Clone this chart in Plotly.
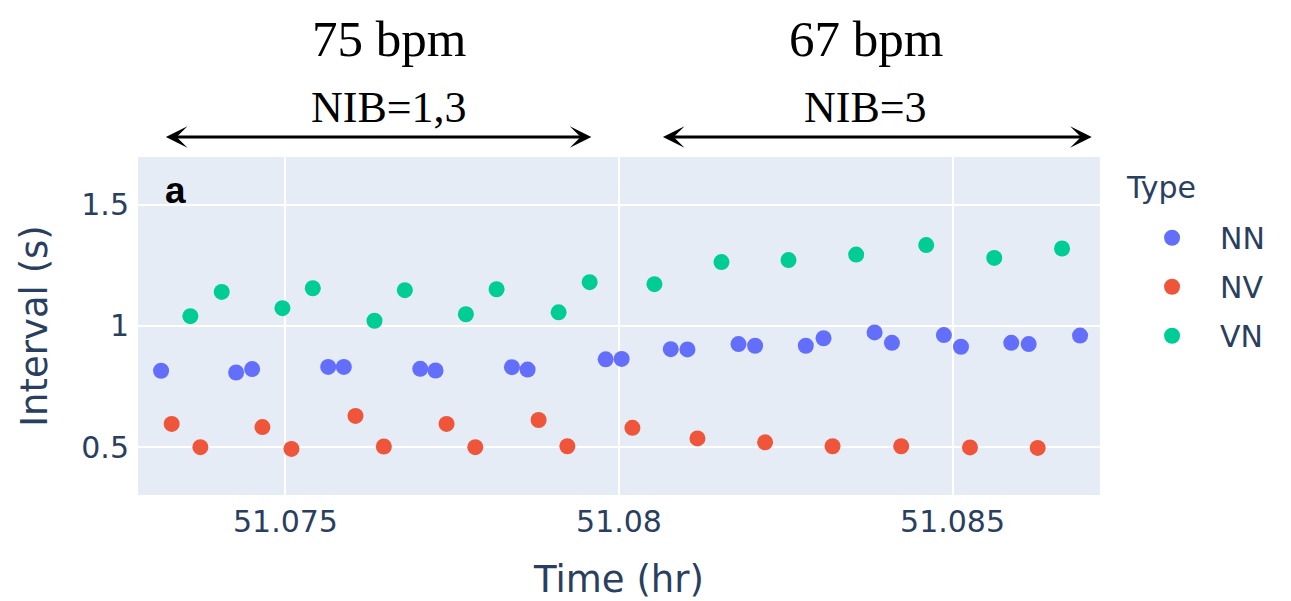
import plotly.graph_objects as go

# ---- data ----
nn_time = [51.073136, 51.074261, 51.074501, 51.075641, 51.075875, 51.077021, 51.07725,
           51.078395, 51.07863, 51.0798, 51.08004, 51.080776, 51.081026, 51.081791,
           51.08204, 51.0828, 51.083066, 51.083831, 51.084091, 51.08487, 51.085126,
           51.08588, 51.086141, 51.086911]
nn_interval = [0.815, 0.808, 0.822, 0.831, 0.831, 0.823, 0.816, 0.830, 0.820, 0.862, 0.864,
               0.904, 0.903, 0.925, 0.918, 0.918, 0.949, 0.973, 0.930, 0.962, 0.914,
               0.930, 0.925, 0.960]

nv_time = [51.073295, 51.073725, 51.074655, 51.07509, 51.07605, 51.076475, 51.077415,
           51.077846, 51.078795, 51.079226, 51.080201, 51.081176, 51.08219, 51.083201,
           51.08423, 51.085261, 51.086276]
nv_interval = [0.596, 0.500, 0.583, 0.493, 0.629, 0.503, 0.596, 0.500, 0.612, 0.504,
               0.580, 0.536, 0.520, 0.504, 0.504, 0.499, 0.497]

vn_time = [51.073575, 51.074045, 51.074955, 51.07541, 51.076335, 51.07679, 51.077705,
           51.078165, 51.079095, 51.07956, 51.080531, 51.081536, 51.082541, 51.083555,
           51.084605, 51.085625, 51.086641]
vn_interval = [1.040, 1.140, 1.073, 1.155, 1.021, 1.147, 1.048, 1.151, 1.056, 1.180,
               1.172, 1.263, 1.271, 1.294, 1.333, 1.280, 1.319]

series_names = ["NN", "NV", "VN"]
series_colors = ["#636EFA", "#EF553B", "#00CC96"]
legend_title = "Type"

# header labels
rate_labels = ["75 bpm", "67 bpm"]
nib_labels = ["NIB=1,3", "NIB=3"]
label_centers = [51.07655, 51.0837]
segment_bounds = [(51.073185, 51.079586), (51.080636, 51.087086)]

x_range = [51.07279, 51.08721]
y_range = [0.303, 1.696]

fig = go.Figure()
for name, color, xs, ys in zip(series_names, series_colors,
                               [nn_time, nv_time, vn_time],
                               [nn_interval, nv_interval, vn_interval]):
    fig.add_trace(go.Scatter(x=xs, y=ys, mode="markers", name=name,
                             legendgroup=name,
                             marker=dict(color=color, size=16)))

FONT = "DejaVu Sans, Verdana, sans-serif"
tick_font = dict(family=FONT, size=30, color="#2a3f5f")
title_font = dict(family=FONT, size=37, color="#2a3f5f")

fig.update_layout(
    width=1283, height=593,
    margin=dict(l=130, r=191, t=149, b=106, autoexpand=False),
    paper_bgcolor="white",
    plot_bgcolor="#E5ECF6",
    font=dict(family=FONT, color="#2a3f5f"),
    showlegend=True,
    legend=dict(font=dict(family=FONT, size=30, color="#2a3f5f"),
                x=1.025, y=0.838, xanchor="left", yanchor="top",
                tracegroupgap=7, itemwidth=86),
    xaxis=dict(range=x_range, dtick=0.005, tick0=51.075, showgrid=True,
               gridcolor="white", gridwidth=2, zeroline=False, automargin=False,
               tickfont=tick_font, ticklabelstandoff=6,
               title=dict(text="Time (hr)", font=title_font, standoff=28)),
    yaxis=dict(range=y_range, dtick=0.5, tick0=0.5, showgrid=True,
               gridcolor="white", gridwidth=2, zeroline=False, automargin=False,
               tickfont=tick_font, ticklabelstandoff=8,
               title=dict(text="Interval (s)", font=title_font, standoff=22)),
)

# legend title
fig.add_annotation(text=legend_title, xref="paper", yref="paper", x=1.025, y=0.911,
                   xanchor="left", yanchor="middle", showarrow=False,
                   font=dict(family=FONT, size=30, color="#2a3f5f"))

# panel label
fig.add_annotation(text="<b>a</b>", xref="paper", yref="paper", x=0.026, y=0.90,
                   xanchor="left", yanchor="middle", showarrow=False,
                   font=dict(family="Liberation Sans, Arial, sans-serif", size=37, color="black"))

# header: heart rates, NIB labels and double arrows
for (x0, x1), xc, rate, nib in zip(segment_bounds, label_centers, rate_labels, nib_labels):
    fig.add_annotation(text=rate, xref="x", yref="paper", x=xc, y=1.0, yshift=118,
                       yanchor="middle", showarrow=False,
                       font=dict(family="Liberation Serif, Times New Roman, serif",
                                 size=51, color="black"))
    fig.add_annotation(text=nib, xref="x", yref="paper", x=xc, y=1.0, yshift=50,
                       yanchor="middle", showarrow=False,
                       font=dict(family="Liberation Serif, Times New Roman, serif",
                                 size=44, color="black"))
    fig.add_annotation(text="", xref="x", yref="paper", x=x1, y=1.0, yshift=20,
                       axref="x", ayref="pixel", ax=x0, ay=0,
                       showarrow=True, arrowhead=3, startarrowhead=3,
                       arrowside="end+start", arrowsize=1.2, startarrowsize=1.2,
                       arrowwidth=3, arrowcolor="black")

fig.write_html("out.html")
